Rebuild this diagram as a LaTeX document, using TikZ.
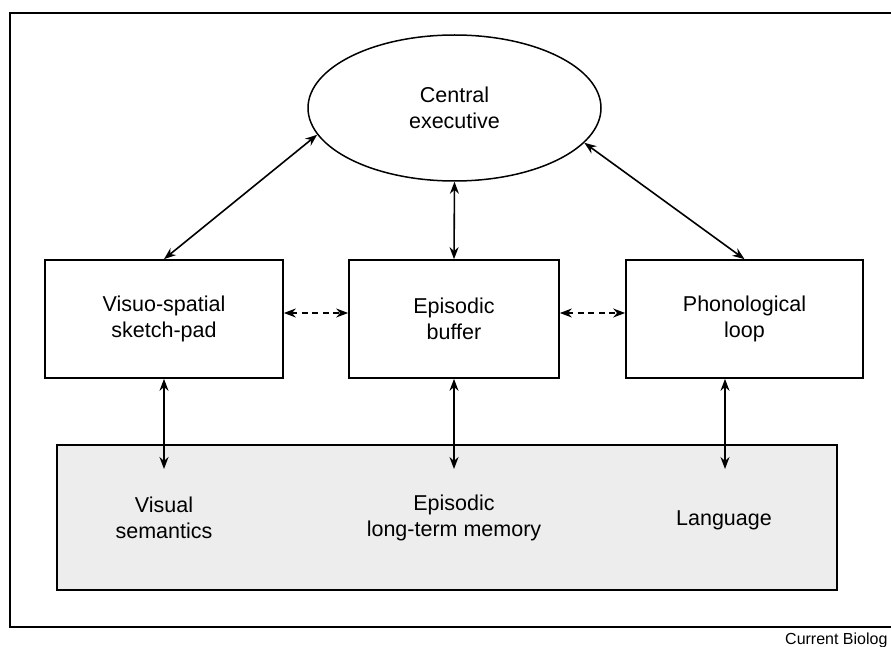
\documentclass[tikz,border=0pt]{standalone}
\usepackage{fontspec}
\setmainfont{Liberation Sans}
\usetikzlibrary{shapes.geometric,arrows.meta}
\begin{document}
\begin{tikzpicture}[x=1pt,y=-1pt,
  every node/.style={font=\fontsize{21.5}{26}\selectfont, align=center},
  modbox/.style={draw, line width=1.7pt, inner sep=0pt},
  link/.style={line width=1.6pt, {Stealth[length=12pt,width=9pt]}-{Stealth[length=12pt,width=9pt]}},
  weaklink/.style={link, dash pattern=on 6pt off 4.5pt},
]
\useasboundingbox (0,0) rectangle (891,647);

% outer frame (its right side runs off the page)
\draw[line width=1.9pt] (895,13) -- (10,13) -- (10,627) -- (895,627);

% long-term stores
\node[modbox, fill=black!7, minimum width=780pt, minimum height=145pt] (ltm) at (447,517.5) {};
\node (vsem) at (164,518) {Visual\\semantics};
\node (eltm) at (454,518) {Episodic\\long-term memory};
\node (lang) at (724,520) {Language};

% central executive
\node[draw, ellipse, line width=1.5pt, inner sep=0pt,
      minimum width=293pt, minimum height=146pt] (ce) at (454.5,108) {Central\\executive};

% slave systems
\node[modbox, minimum width=238pt, minimum height=118pt] (vs) at (164,319) {Visuo-spatial\\sketch-pad};
\node[modbox, minimum width=210pt, minimum height=118pt] (eb) at (454,319) {Episodic\\buffer};
\node[modbox, minimum width=237pt, minimum height=118pt] (pl) at (744.5,319) {Phonological\\loop};

% arrow ends inside the long-term stores
\coordinate (vstip) at (164,469);
\coordinate (ebtip) at (454,469);
\coordinate (pltip) at (725,469);

% executive links
\draw[link] (vs.north) -- (ce.191.5);
\draw[link] (ce.south) -- (eb.north);
\draw[link] (pl.north) -- (ce.345);

% buffer links
\draw[weaklink] ([yshift=6pt]vs.east) -- ([yshift=6pt]eb.west);
\draw[weaklink] ([yshift=6pt]eb.east) -- ([yshift=6pt]pl.west);

% links to long-term memory
\draw[link] (vs.south -| vstip) -- (vstip);
\draw[link] (eb.south -| ebtip) -- (ebtip);
\draw[link] (pl.south -| pltip) -- (pltip);

% credit line
\node[anchor=base east, font=\fontsize{16}{18}\selectfont] (credit) at (891,644) {Current Biolog};
\end{tikzpicture}
\end{document}
